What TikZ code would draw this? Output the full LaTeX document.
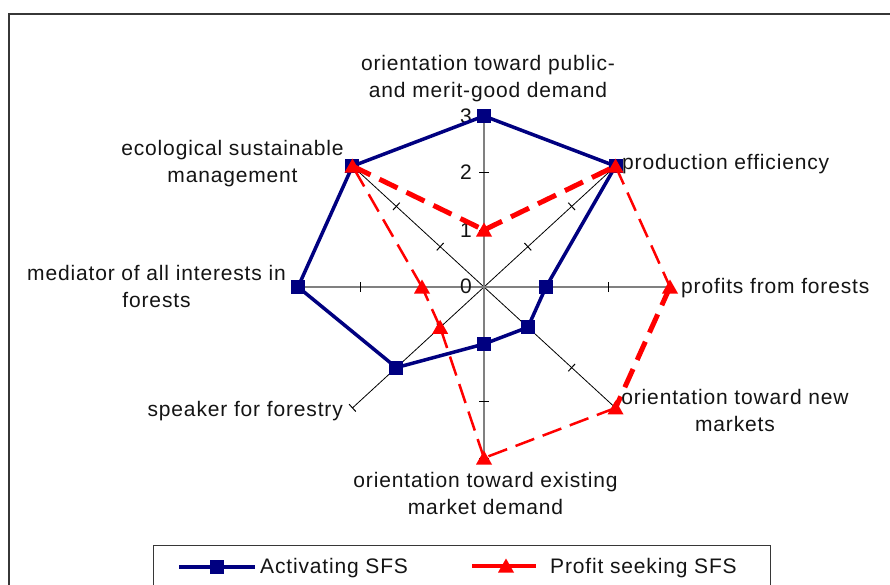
\documentclass[tikz,border=0pt]{standalone}
\usepackage{fontspec}
\setmainfont[LetterSpace=4]{Liberation Sans}
\usetikzlibrary{calc}
\definecolor{navyblue}{RGB}{0,0,128}
\definecolor{axisgray}{RGB}{128,128,128}
\definecolor{framegray}{RGB}{55,55,55}
\begin{document}
\begin{tikzpicture}[x=1pt,y=-1pt,
  lbl/.style={font=\fontsize{21}{27}\selectfont, inner sep=0pt, align=center, text=black!92},
  sglbl/.style={font=\fontsize{21}{27}\selectfont, inner sep=0pt, text=black!92},
  axlbl/.style={font=\fontsize{21}{27}\selectfont, inner sep=0pt, anchor=base east, text=black!92},
  diagax/.style={black, line width=0.8},
  mainax/.style={axisgray, line width=1.6},
  tickmark/.style={black, line width=1},
  blueline/.style={navyblue, line width=3.5, line join=miter},
  redthick/.style={red, line width=5, dash pattern=on 20pt off 10pt},
  redthin/.style={red, line width=2.5, dash pattern=on 20pt off 9pt},
  bsq/.pic={\fill[navyblue] (-7,-7) rectangle (7,7);},
  rtri/.pic={\fill[red] (-8,6.5) -- (8,6.5) -- (0,-7.5) -- cycle;},
]
\useasboundingbox (0,0) rectangle (890,585);
\clip (0,0) rectangle (890,585);
\fill[white] (0,0) rectangle (890,585);
\draw[framegray, line width=1.8] (9,14) rectangle (905,600);

% axes
\coordinate (O) at (484,287);
\foreach \k in {0,...,7}{
  \coordinate (A\k) at ({484+186*sin(45*\k)},{287-171*cos(45*\k)});
}
\draw[diagax] (A1) -- (A5);
\draw[diagax] (A3) -- (A7);
\draw[mainax] (A0) -- (A4);
\draw[mainax] (A2) -- (A6);
\foreach \k in {0,...,7}{
  \foreach \v in {1,2,3}{
    \coordinate (T\k-\v) at ({484+62*\v*sin(45*\k)},{287-57*\v*cos(45*\k)});
    \draw[tickmark] ($(T\k-\v)!5pt!90:(O)$) -- ($(T\k-\v)!5pt!-90:(O)$);
  }
}

% axis value labels
\node[axlbl] (v0) at (472,293) {0};
\node[axlbl] (v1) at (472,237) {1};
\node[axlbl] (v2) at (472,180) {2};
\node[axlbl] (v3) at (472,124) {3};

% data points
\foreach \k/\v in {0/3,1/3,2/1,3/1,4/1,5/2,6/3,7/3}{
  \coordinate (B\k) at ({484+62*\v*sin(45*\k)},{287-57*\v*cos(45*\k)});
}
\foreach \k/\v in {0/1,1/3,2/3,3/3,4/3,5/1,6/1,7/3}{
  \coordinate (R\k) at ({484+62*\v*sin(45*\k)},{287-57*\v*cos(45*\k)});
}

% Activating SFS
\draw[blueline] (B0) -- (B1) -- (B2) -- (B3) -- (B4) -- (B5) -- (B6) -- (B7) -- cycle;
\foreach \k in {0,...,7}{ \pic at (B\k) {bsq}; }

% Profit seeking SFS
\draw[redthick] (R7) -- (R0);
\draw[redthick] (R0) -- (R1);
\draw[redthin] (R1) -- (R2);
\draw[redthick] (R2) -- (R3);
\draw[redthin] (R3) -- (R4);
\draw[redthin] (R4) -- (R5);
\draw[redthin] (R5) -- (R6);
\draw[redthin] (R6) -- (R7);
\foreach \k in {0,...,7}{ \pic at (R\k) {rtri}; }

% category labels
\node[lbl] (l0) at (488,78.5) {orientation toward public-\\and merit-good demand};
\node[sglbl, anchor=base west] (l1) at (622,170) {production efficiency};
\node[sglbl, anchor=base west] (l2) at (681,293) {profits from forests};
\node[lbl] (l3) at (735,410) {orientation toward new\\markets};
\node[lbl] (l4) at (485.5,493) {orientation toward existing\\market demand};
\node[sglbl, anchor=base east] (l5) at (343,416) {speaker for forestry};
\node[lbl] (l6) at (156.5,286.5) {mediator of all interests in\\forests};
\node[lbl] (l7) at (232.5,163.5) {ecological sustainable\\management};

% legend
\draw[framegray, line width=1] (153,545) rectangle (770,600);
\coordinate (lb1) at (179,567);
\coordinate (lb2) at (255,567);
\coordinate (lbm) at (217,567);
\draw[navyblue, line width=3.5] (lb1) -- (lb2);
\pic at (lbm) {bsq};
\node[sglbl, anchor=base west] (lgb) at (260,573) {Activating SFS};
\coordinate (lr1) at (472,566);
\coordinate (lr2) at (536,566);
\coordinate (lrm) at (506,566);
\draw[red, line width=4] (lr1) -- (lr2);
\pic at (lrm) {rtri};
\node[sglbl, anchor=base west] (lgr) at (550,573) {Profit seeking SFS};
\end{tikzpicture}
\end{document}
